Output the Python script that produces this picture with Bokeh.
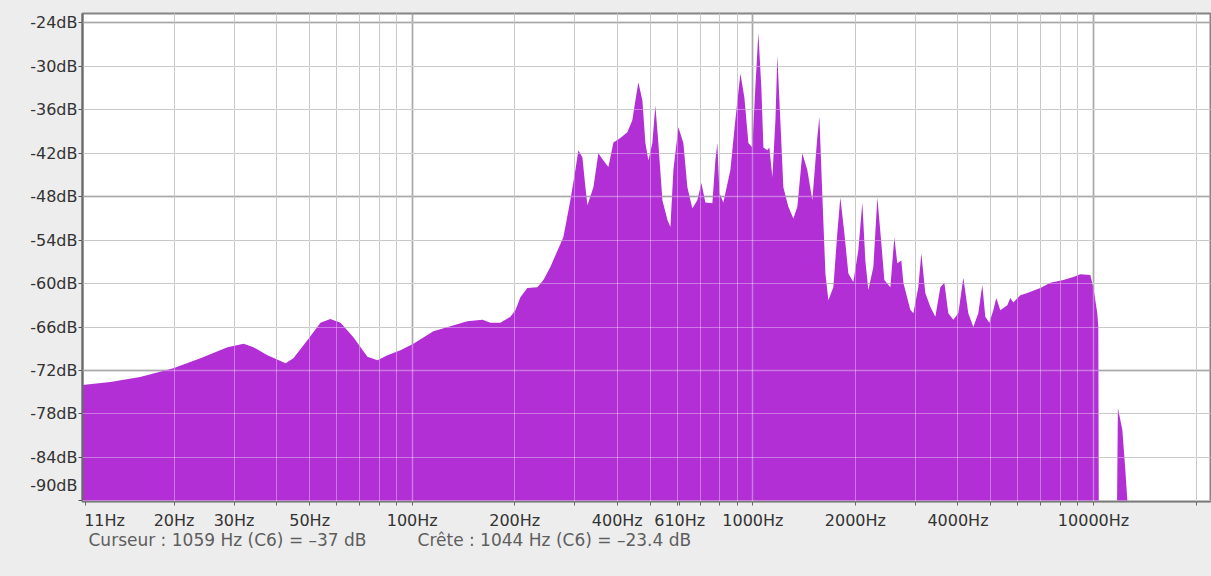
from bokeh.plotting import figure
from bokeh.models import (Range1d, FixedTicker, Grid, ColumnDataSource, Title,
                          GlobalInlineStyleSheet)
from bokeh.embed import file_html
from bokeh.resources import INLINE

# ---------------- data ----------------
freq_hz = [10.77, 13.0, 15.9, 19.9, 23.9, 28.7, 32.0, 34.2, 37.6, 42.5,
           44.8, 49.3, 53.8, 57.5, 61.6, 67.2, 73.9, 79.1, 84.6, 92.4,
           100.8, 115.4, 129.4, 145.2, 160.8, 169.7, 181.5, 194.2, 200.9, 207.8,
           217.8, 233.1, 242.8, 254.4, 277.8, 291.3, 301.3, 307.5, 316.0, 322.5,
           326.9, 340.4, 352.0, 364.1, 376.7, 389.6, 408.4, 428.2, 442.9, 452.0,
           461.3, 474.0, 483.7, 493.6, 507.0, 517.4, 528.0, 542.6, 561.3, 572.8,
           584.5, 604.5, 625.2, 642.4, 664.4, 687.3, 706.2, 725.6, 760.6, 776.2,
           786.8, 797.6, 819.4, 859.1, 888.5, 919.1, 944.4, 970.3, 996.6, 1017,
           1038, 1059, 1074, 1103, 1118, 1141, 1165, 1180, 1204, 1229,
           1271, 1315, 1351, 1397, 1445, 1495, 1546, 1568, 1600, 1633,
           1666, 1723, 1770, 1806, 1856, 1907, 1972, 2040, 2096, 2139,
           2183, 2258, 2320, 2383, 2432, 2533, 2602, 2655, 2728, 2766,
           2899, 2959, 3060, 3123, 3208, 3319, 3433, 3551, 3649, 3748,
           3877, 4010, 4148, 4290, 4438, 4590, 4716, 4812, 4945, 5080,
           5183, 5326, 5585, 5699, 5816, 6098, 6393, 6982, 7468, 8155,
           8724, 9149, 9786, 9986, 10260, 10330, 10400, 11650, 11700, 11790,
           12149, 12398, 12652, 12800, 22050]

level_db = [-74.0, -73.6, -72.9, -71.7, -70.3, -68.8, -68.3, -68.8, -69.9, -71.0,
            -70.3, -67.8, -65.4, -64.9, -65.4, -67.4, -70.1, -70.6, -69.9, -69.2,
            -68.3, -66.6, -65.9, -65.2, -65.0, -65.4, -65.4, -64.6, -63.7, -61.9,
            -60.6, -60.5, -59.5, -57.7, -53.6, -48.5, -44.3, -41.6, -42.6, -46.7,
            -49.2, -46.7, -42.0, -43.0, -43.9, -40.5, -39.9, -39.1, -37.4, -34.7,
            -32.2, -34.7, -40.6, -43.0, -40.6, -35.4, -40.6, -48.5, -51.2, -52.2,
            -44.3, -38.4, -40.6, -46.7, -49.6, -48.5, -46.1, -48.8, -48.9, -43.0,
            -40.6, -47.5, -48.8, -44.3, -37.4, -31.0, -34.3, -40.6, -41.2, -32.9,
            -25.4, -32.9, -41.2, -41.6, -41.2, -45.3, -37.4, -28.5, -37.4, -46.7,
            -49.4, -51.0, -49.4, -42.0, -44.3, -48.5, -39.8, -37.0, -48.0, -58.6,
            -62.3, -60.5, -53.0, -48.1, -53.0, -58.6, -59.8, -55.4, -48.8, -56.8,
            -60.9, -57.7, -48.1, -54.4, -59.5, -60.5, -53.6, -57.2, -56.8, -59.9,
            -63.6, -64.1, -60.5, -55.8, -61.3, -63.2, -64.6, -60.5, -59.9, -64.1,
            -65.0, -64.1, -59.2, -64.1, -66.0, -64.1, -60.2, -64.6, -65.4, -63.7,
            -62.0, -63.7, -63.0, -62.0, -62.6, -61.6, -61.3, -60.6, -59.9, -59.5,
            -59.1, -58.7, -58.8, -60.5, -64.1, -66.0, -120, -120, -95, -77.2,
            -80.2, -85.7, -92, -120, -120]

floor_db = -120

# y axis: tick marks and labels (the -90dB label sits a little above its tick)
y_ticks_db = [-24, -30, -36, -42, -48, -54, -60, -66, -72, -78, -84, -90]
y_label_db = [-24, -30, -36, -42, -48, -54, -60, -66, -72, -78, -84, -87.9]
y_label_text = ["-24dB", "-30dB", "-36dB", "-42dB", "-48dB", "-54dB",
                "-60dB", "-66dB", "-72dB", "-78dB", "-84dB", "-90dB"]

# x axis: tick marks and labels (the first one sits right of its 11 Hz tick)
x_ticks_hz = [11, 20, 30, 40, 50, 60, 70, 80, 90, 100,
              200, 300, 400, 500, 600, 610, 700, 800, 900, 1000,
              2000, 3000, 4000, 5000, 6000, 7000, 8000, 9000, 10000, 20000]
x_label_hz = [12.5, 20, 30, 50, 100, 200, 400, 610, 1000, 2000, 4000, 10000]
x_label_text = ["11Hz", "20Hz", "30Hz", "50Hz", "100Hz", "200Hz", "400Hz",
                "610Hz", "1000Hz", "2000Hz", "4000Hz", "10000Hz"]

x_grid_minor_hz = [20, 30, 40, 50, 60, 70, 80, 90,
                   200, 300, 400, 500, 600, 700, 800, 900,
                   2000, 3000, 4000, 5000, 6000, 7000, 8000, 9000, 20000]
x_grid_major_hz = [100, 1000, 10000]
y_grid_minor_db = [-30, -36, -42, -54, -60, -66, -78, -84, -90]
y_grid_major_db = [-24, -48, -72]

cursor_text = "Curseur : 1059 Hz (C6) = \u201337 dB"
peak_text = "Cr\u00eate : 1044 Hz (C6) = \u201323.4 dB"

X_START, X_END = 10.77, 22050
Y_START, Y_END = -90.1, -22.7

# ---------------- figure ----------------
W, H = 1211, 570
BG = "#ededed"
FILL = "#b12fd4"
FONT = "DejaVu Sans"
FS = "16px"
LABEL_COLOR = "#333333"

p = figure(width=W, height=H, x_axis_type="log",
           x_range=Range1d(X_START, X_END), y_range=Range1d(Y_START, Y_END),
           output_backend="svg", toolbar_location=None,
           min_border_left=82, min_border_right=1, min_border_top=13,
           min_border_bottom=69, background_fill_color="white",
           border_fill_color=BG, outline_line_color="#858585",
           outline_line_width=2)
p.stylesheets = [GlobalInlineStyleSheet(css="html, body { background-color: %s; }" % BG)]

p.xgrid.visible = False
p.ygrid.visible = False

# grid under the fill (grey on white)
for dim, ticks, col, w in [(0, x_grid_minor_hz, "#acacac", 1),
                           (0, x_grid_major_hz, "#7a7a7a", 1.5),
                           (1, y_grid_minor_db, "#acacac", 1),
                           (1, y_grid_major_db, "#7a7a7a", 1.5)]:
    p.add_layout(Grid(dimension=dim, ticker=FixedTicker(ticks=ticks),
                      grid_line_color=col, grid_line_width=w))

src = ColumnDataSource(dict(freq=freq_hz, level=level_db,
                            floor=[floor_db] * len(freq_hz)))
p.varea(x="freq", y1="floor", y2="level", source=src, fill_color=FILL)

# grid over the fill (light lines inside the purple)
for dim, ticks, w in [(0, x_grid_minor_hz, 1), (0, x_grid_major_hz, 1.5),
                      (1, y_grid_minor_db, 1), (1, y_grid_major_db, 1.5)]:
    p.add_layout(Grid(dimension=dim, ticker=FixedTicker(ticks=ticks),
                      grid_line_color="white", grid_line_alpha=0.35,
                      grid_line_width=w, level="overlay"))


def style_axis(ax, standoff):
    ax.major_label_text_font = FONT
    ax.major_label_text_font_size = FS
    ax.major_label_text_color = LABEL_COLOR
    ax.major_label_standoff = standoff
    ax.major_tick_out = 4
    ax.major_tick_in = 0
    ax.major_tick_line_color = None
    ax.minor_tick_out = 4
    ax.minor_tick_in = 0


yax = p.yaxis[0]
yax.ticker = FixedTicker(ticks=y_label_db, minor_ticks=y_ticks_db)
yax.major_label_overrides = dict(zip(y_label_db, y_label_text))
style_axis(yax, 1)
yax.minor_tick_line_color = "#555555"
yax.axis_line_color = "#6a6a6a"
yax.axis_line_width = 2

xax = p.xaxis[0]
xax.ticker = FixedTicker(ticks=x_label_hz, minor_ticks=x_ticks_hz)
xax.major_label_overrides = dict(zip(x_label_hz, x_label_text))
style_axis(xax, 5)
xax.minor_tick_line_color = "#666666"
xax.axis_line_color = "#7a7a7a"
xax.axis_line_width = 1.5

# status line under the plot
status = Title(text=cursor_text + "\u2003\u2003\u2003" + peak_text,
               align="left", offset=6, standoff=-9,
               text_font=FONT, text_font_size="17px", text_font_style="normal",
               text_color="#5e5e5e")
p.add_layout(status, "below")

open("out.html", "w").write(file_html(p, INLINE))
